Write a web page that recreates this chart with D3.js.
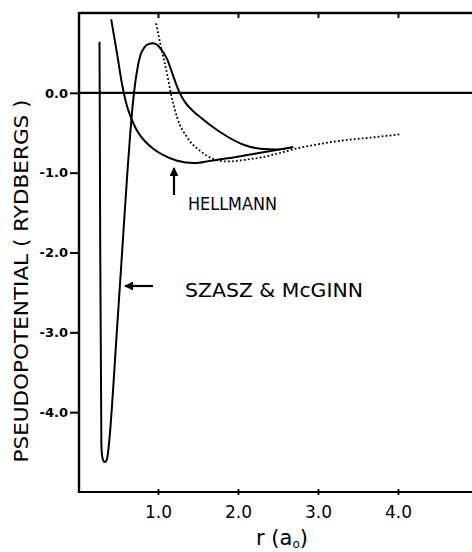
<!DOCTYPE html>
<html>
<head>
<meta charset="utf-8">
<script src="https://cdn.jsdelivr.net/npm/d3@7"></script>
<style>
  html, body { margin: 0; padding: 0; background: #fff; }
  svg { display: block; }
</style>
</head>
<body>
<svg id="chart" width="472" height="552"></svg>
<script>
// ---- data ----
const xTicks = [1, 2, 3, 4];
const xTickLabels = ["1.0", "2.0", "3.0", "4.0"];
const yTicks = [0, -1, -2, -3, -4];
const yTickLabels = ["0.0", "-1.0", "-2.0", "-3.0", "-4.0"];

// Szasz & McGinn pseudopotential (r in a0, V in Rydbergs)
const szaszR = [0.269, 0.278, 0.292, 0.302, 0.318, 0.338, 0.358, 0.374, 0.387, 0.485, 0.551, 0.617, 0.650, 0.672, 0.700, 0.735, 0.780, 0.830, 0.880, 0.935, 0.990, 1.050, 1.115, 1.180, 1.230, 1.280, 1.340, 1.450, 1.560, 1.660, 1.870, 2.070, 2.280, 2.480, 2.690];
const szaszV = [0.64, -2.00, -4.40, -4.55, -4.61, -4.625, -4.60, -4.52, -4.40, -3.00, -2.00, -1.00, -0.55, -0.28, 0.00, 0.26, 0.47, 0.57, 0.61, 0.62, 0.60, 0.53, 0.42, 0.24, 0.10, -0.02, -0.12, -0.24, -0.33, -0.41, -0.55, -0.65, -0.70, -0.71, -0.68];

// Hellmann pseudopotential (solid)
const hellR = [0.415, 0.490, 0.550, 0.600, 0.650, 0.700, 0.760, 0.840, 0.940, 1.050, 1.240, 1.450, 1.660, 1.870, 2.080, 2.280, 2.480, 2.690];
const hellV = [0.92, 0.48, 0.11, -0.12, -0.28, -0.40, -0.51, -0.61, -0.70, -0.77, -0.85, -0.88, -0.85, -0.82, -0.785, -0.75, -0.715, -0.68];

// dotted curve
const dotR = [0.977, 1.030, 1.115, 1.160, 1.240, 1.365, 1.530, 1.700, 1.870, 2.080, 2.280, 2.500, 2.720, 3.000, 3.240, 3.660, 4.030];
const dotV = [0.87, 0.61, 0.23, 0.00, -0.31, -0.56, -0.73, -0.83, -0.86, -0.84, -0.81, -0.76, -0.70, -0.645, -0.605, -0.56, -0.52];

// ---- scales ----
const svg = d3.select("#chart");
const x = d3.scaleLinear().domain([0, 5]).range([78, 478]);
const y = d3.scaleLinear().domain([-5, 1]).range([492, 13]);
const left = 79;
const right = 472;

const g = svg.append("g");

// frame: top, left, bottom
g.append("line").attr("x1", left).attr("x2", right).attr("y1", y(1)).attr("y2", y(1))
  .attr("stroke", "#000").attr("stroke-width", 2.4);
g.append("line").attr("x1", left).attr("x2", left).attr("y1", y(1) - 1).attr("y2", y(-5) + 1)
  .attr("stroke", "#000").attr("stroke-width", 2.4);
g.append("line").attr("x1", left).attr("x2", right).attr("y1", y(-5)).attr("y2", y(-5))
  .attr("stroke", "#000").attr("stroke-width", 2.2);
// zero line
g.append("line").attr("x1", left).attr("x2", right).attr("y1", y(0)).attr("y2", y(0))
  .attr("stroke", "#000").attr("stroke-width", 2.4);

// bottom axis
const xAxis = d3.axisBottom(x).tickValues(xTicks).tickFormat((d, i) => xTickLabels[i])
  .tickSizeInner(3).tickSizeOuter(0).tickPadding(11);
const gx = g.append("g").attr("transform", `translate(0,${y(-5)})`).call(xAxis);
gx.select(".domain").remove();
gx.selectAll(".tick line").attr("stroke-width", 1.8).attr("y1", -3);
gx.selectAll(".tick text").attr("font-family", "DejaVu Sans").attr("font-size", 17)
  .attr("fill", "#000");

// top axis ticks (inward)
const xTop = d3.axisTop(x).tickValues(xTicks).tickFormat("").tickSizeInner(-5).tickSizeOuter(0);
const gt = g.append("g").attr("transform", `translate(0,${y(1)})`).call(xTop);
gt.select(".domain").remove();
gt.selectAll(".tick line").attr("stroke-width", 2);

// left axis
const yAxis = d3.axisLeft(y).tickValues(yTicks).tickFormat((d, i) => yTickLabels[i])
  .tickSizeInner(9).tickSizeOuter(0).tickPadding(2);
const gy = g.append("g").attr("transform", `translate(${left},0)`).call(yAxis);
gy.select(".domain").remove();
gy.selectAll(".tick line").attr("stroke-width", 2);
gy.selectAll(".tick text").attr("font-family", "DejaVu Sans").attr("font-weight", "bold")
  .attr("font-size", 13).attr("fill", "#000");

// curves
const line = d3.line().x(d => x(d[0])).y(d => y(d[1])).curve(d3.curveMonotoneX);
const szasz = szaszR.map((r, i) => [r, szaszV[i]]);
const hell = hellR.map((r, i) => [r, hellV[i]]);
const dots = dotR.map((r, i) => [r, dotV[i]]);

g.append("path").attr("d", line(szasz)).attr("fill", "none").attr("stroke", "#000")
  .attr("stroke-width", 2).attr("stroke-linejoin", "round");
g.append("path").attr("d", line(hell)).attr("fill", "none").attr("stroke", "#000")
  .attr("stroke-width", 2).attr("stroke-linejoin", "round");
g.append("path").attr("d", line(dots)).attr("fill", "none").attr("stroke", "#000")
  .attr("stroke-width", 1.8).attr("stroke-dasharray", "1.8,2.2");

// arrows
svg.append("defs").append("marker").attr("id", "ah").attr("viewBox", "0 0 10 10")
  .attr("refX", 9).attr("refY", 5).attr("markerWidth", 4).attr("markerHeight", 4)
  .attr("orient", "auto").attr("markerUnits", "strokeWidth")
  .append("path").attr("d", "M0,0 L10,5 L0,10 z").attr("fill", "#000");

g.append("line").attr("x1", 174).attr("x2", 174).attr("y1", 195).attr("y2", 168)
  .attr("stroke", "#000").attr("stroke-width", 2.2).attr("marker-end", "url(#ah)");
g.append("line").attr("x1", 153).attr("x2", 125).attr("y1", 286).attr("y2", 286)
  .attr("stroke", "#000").attr("stroke-width", 2.2).attr("marker-end", "url(#ah)");

// annotations
g.append("text").attr("x", 188).attr("y", 210).attr("font-family", "DejaVu Sans")
  .attr("font-size", 18).attr("textLength", 89).attr("lengthAdjust", "spacingAndGlyphs")
  .text("HELLMANN");
g.append("text").attr("x", 185).attr("y", 297).attr("font-family", "DejaVu Sans")
  .attr("font-size", 20).attr("textLength", 178).attr("lengthAdjust", "spacingAndGlyphs")
  .text("SZASZ & McGINN");

// axis titles
g.append("text").attr("transform", "translate(28,281) rotate(-90)")
  .attr("text-anchor", "middle").attr("font-family", "DejaVu Sans").attr("font-size", 20)
  .attr("textLength", 363).attr("lengthAdjust", "spacingAndGlyphs")
  .text("PSEUDOPOTENTIAL  ( RYDBERGS )");

const xt = g.append("text").attr("x", 256).attr("y", 545).attr("font-family", "DejaVu Sans")
  .attr("font-size", 21);
xt.append("tspan").text("r (a");
xt.append("tspan").attr("dy", 3).attr("font-size", 12).text("o");
xt.append("tspan").attr("dy", -3).text(")");
</script>
</body>
</html>
